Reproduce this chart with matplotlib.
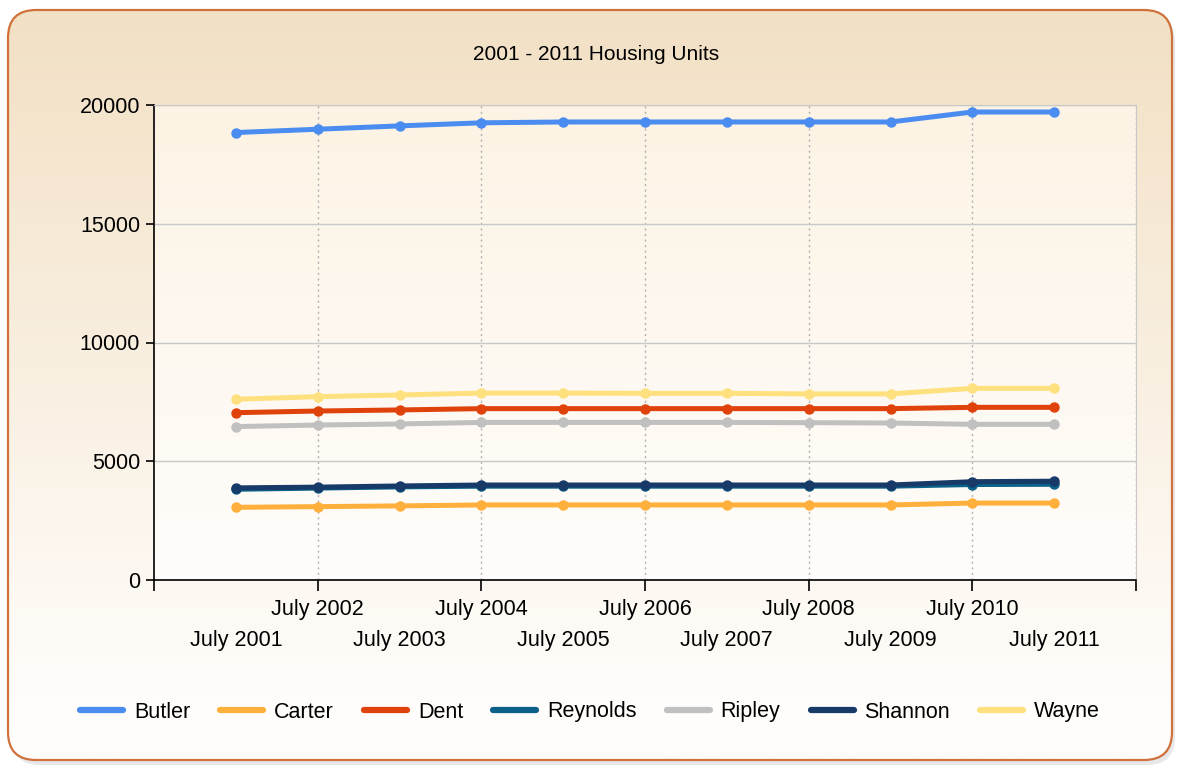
import numpy as np
import matplotlib.pyplot as plt
from matplotlib.patches import FancyBboxPatch

# data
years = [2001, 2002, 2003, 2004, 2005, 2006, 2007, 2008, 2009, 2010, 2011]
butler = [18840, 18980, 19120, 19250, 19285, 19285, 19285, 19285, 19285, 19705, 19705]
carter = [3060, 3090, 3120, 3160, 3160, 3160, 3160, 3160, 3160, 3240, 3240]
dent = [7045, 7115, 7160, 7215, 7215, 7215, 7215, 7215, 7215, 7270, 7270]
reynolds = [3820, 3870, 3920, 3950, 3950, 3950, 3950, 3950, 3950, 4020, 4030]
ripley = [6460, 6525, 6570, 6635, 6635, 6635, 6635, 6625, 6610, 6555, 6555]
shannon = [3880, 3910, 3960, 4000, 4000, 4000, 4000, 4000, 4000, 4140, 4160]
wayne = [7610, 7720, 7790, 7870, 7870, 7860, 7860, 7835, 7835, 8070, 8070]

names = ['Butler', 'Carter', 'Dent', 'Reynolds', 'Ripley', 'Shannon', 'Wayne']
series = [butler, carter, dent, reynolds, ripley, shannon, wayne]
colors = ['#4A8CF0', '#FFB03C', '#E0420C', '#0B6188', '#C0C0C0', '#173A68', '#FFE07E']

plt.rcParams['font.family'] = ['Liberation Sans', 'DejaVu Sans']

fig = plt.figure(figsize=(11.77, 7.65), dpi=100)
fig.patch.set_facecolor('white')

# rounded panel with gradient
bg = fig.add_axes([0, 0, 1, 1], zorder=-5)
bg.set_xlim(0, 1177)
bg.set_ylim(765, 0)
bg.axis('off')
shadow = FancyBboxPatch((12, 14), 1163, 751, boxstyle='round,pad=0,rounding_size=28',
                        fc='#D8D8D8', ec='none', alpha=0.6)
bg.add_patch(shadow)
panel = FancyBboxPatch((8, 10), 1164, 750, boxstyle='round,pad=0,rounding_size=28',
                       fc='none', ec='#D0713C', lw=1.6, zorder=3)
bg.add_patch(panel)
top_c = np.array([242, 224, 196]) / 255
bot_c = np.array([255, 253, 251]) / 255
t = np.clip(np.linspace(0, 1, 300) / 0.92, 0, 1)[:, None]
grad = top_c[None, :] * (1 - t) + bot_c[None, :] * t
img = bg.imshow(grad[:, None, :], extent=(8, 1172, 760, 10), aspect='auto', zorder=1)
img.set_clip_path(panel)

# plot area
ax = fig.add_axes([154 / 1177, 1 - 580 / 765, 982 / 1177, 475 / 765])
ax.set_facecolor('none')
ptop = np.array([252, 243, 228]) / 255
pbot = np.array([255, 253, 251]) / 255
t2 = np.linspace(0, 1, 200)[:, None]
pgrad = ptop[None, :] * (1 - t2) + pbot[None, :] * t2
ax.imshow(pgrad[:, None, :], extent=(0, 1, 0, 1), transform=ax.transAxes,
          aspect='auto', zorder=0)

for name, vals, c in zip(names, series, colors):
    ax.plot(years, vals, color=c, lw=3.6, marker='o', ms=6.5, label=name,
            solid_capstyle='round', zorder=3)

ax.set_xlim(2000, 2012)
ax.set_ylim(0, 20000)
ax.set_yticks([0, 5000, 10000, 15000, 20000])
ax.set_yticklabels(['0', '5000', '10000', '15000', '20000'])
ax.grid(axis='y', color='#C8C8C8', lw=1, zorder=1)

major = [2000, 2002, 2004, 2006, 2008, 2010, 2012]
ax.set_xticks(major)
ax.set_xticklabels(['' if y in (2000, 2012) else 'July %d' % y for y in major])
odd = [y for y in years if y % 2 == 1]
ax.set_xticks(odd, minor=True)
ax.set_xticklabels(['July %d' % y for y in odd], minor=True)
ax.tick_params(axis='x', which='major', length=8, width=1.2, pad=6, labelsize=15.5)
ax.tick_params(axis='x', which='minor', length=0, pad=36, labelsize=15.5)
ax.tick_params(axis='y', length=6, width=1.2, pad=4, labelsize=15.5)
for xv in major[1:]:
    ax.axvline(xv, color='#B0B0B0', lw=1, ls=(0, (1.5, 2.5)), zorder=1)

for s in ['top', 'right']:
    ax.spines[s].set_color('#C8C8C8')
for s in ['left', 'bottom']:
    ax.spines[s].set_color('black')
    ax.spines[s].set_linewidth(1.2)

fig.text(596 / 1177, 1 - 55 / 765, '2001 - 2011 Housing Units', ha='center', va='center',
         fontsize=15)

leg = fig.legend(loc='center', bbox_to_anchor=(590 / 1177, 1 - 712 / 765), ncol=7,
                 frameon=False, fontsize=15.5, handlelength=2.0, handletextpad=0.5,
                 columnspacing=1.4, markerscale=0.4)
for h in leg.legend_handles:
    h.set_linewidth(4.5)

fig.savefig('out.png', dpi=100)
